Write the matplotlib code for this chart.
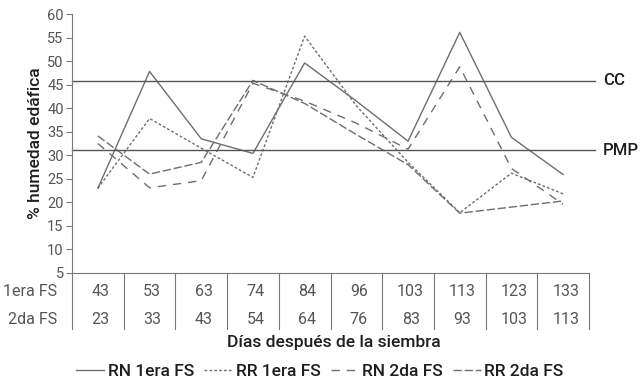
import matplotlib.pyplot as plt
from matplotlib.transforms import blended_transform_factory

plt.rcParams['font.family'] = ['Roboto', 'DejaVu Sans']

# Datos
dias_1era = [43, 53, 63, 74, 84, 96, 103, 113, 123, 133]
dias_2da = [23, 33, 43, 54, 64, 76, 83, 93, 103, 113]

rn_1era = [23.0, 47.8, 33.5, 30.4, 49.6, 41.5, 33.0, 56.1, 33.8, 25.9]
rr_1era = [23.0, 37.8, 31.5, 25.3, 55.3, 40.5, 28.5, 17.8, 26.2, 21.8]
rn_2da = [32.5, 23.1, 24.6, 45.3, 41.5, 36.8, 31.3, 48.8, 27.2, 19.6]
rr_2da = [34.1, 26.0, 28.5, 45.9, 41.0, 34.4, 28.0, 17.7, 19.0, 20.3]

cc = 45.8
pmp = 31.1

gris = '#6e6e6e'
texto = '#555555'
oscuro = '#1e1e1e'

fig = plt.figure(figsize=(6.43, 3.82), dpi=100)
ax = fig.add_axes([72 / 643, (382 - 273) / 382, (589 - 72) / 643, 259 / 382])

x = list(range(len(dias_1era)))

ax.plot(x, rn_1era, color=gris, lw=1.0, label='RN 1era FS')
ax.plot(x, rr_1era, color=gris, lw=1.0, dashes=(2, 1.5), label='RR 1era FS')
ax.plot(x, rn_2da, color=gris, lw=1.0, dashes=(6, 5), label='RN 2da FS')
ax.plot(x, rr_2da, color=gris, lw=1.0, dashes=(6, 2), label='RR 2da FS')

# Líneas CC y PMP
x_fin = 9.5 + 6 / 51.7
ax.plot([-0.5, x_fin], [cc, cc], color='#555555', lw=1.0, clip_on=False)
ax.plot([-0.5, x_fin], [pmp, pmp], color='#555555', lw=1.0, clip_on=False)
ax.text(9.5 + 14 / 51.7, cc, 'CC', fontsize=12, fontweight='medium', color=oscuro,
        va='center', ha='left')
ax.text(9.5 + 14 / 51.7, pmp, 'PMP', fontsize=12, fontweight='medium', color=oscuro,
        va='center', ha='left')

ax.set_xlim(-0.5, 9.5)
ax.set_ylim(5, 60)
ax.set_yticks(range(5, 61, 5))
ax.set_xticks([])
ax.tick_params(axis='y', length=4, width=0.8, colors='#777777', labelcolor=texto,
               labelsize=10.5, pad=2)
ax.spines['top'].set_visible(False)
ax.spines['right'].set_visible(False)
ax.spines['left'].set_color('#777777')
ax.spines['bottom'].set_color('#777777')
ax.spines['left'].set_linewidth(0.8)
ax.spines['bottom'].set_linewidth(0.8)

ax.set_ylabel('% humedad edáfica', fontsize=12.5, fontweight='medium', color=oscuro,
              labelpad=3)

# Tabla bajo el eje
trans = blended_transform_factory(ax.transData, ax.transAxes)
for i in range(len(dias_1era) + 1):
    ax.plot([i - 0.5, i - 0.5], [0, -0.216], color='#777777', lw=0.8,
            transform=trans, clip_on=False)
for i in x:
    ax.text(i + 0.05, -0.072, str(dias_1era[i]), transform=trans, ha='center',
            va='center', fontsize=11.5, color=texto)
    ax.text(i + 0.05, -0.179, str(dias_2da[i]), transform=trans, ha='center',
            va='center', fontsize=11.5, color=texto)
ax.text(-0.79, -0.072, '1era FS', transform=trans, ha='right', va='center',
        fontsize=11.5, color=texto)
ax.text(-0.79, -0.179, '2da FS', transform=trans, ha='right', va='center',
        fontsize=11.5, color=texto)

fig.text(334 / 643, 1 - 343 / 382, 'Días después de la siembra', ha='center',
         va='center', fontsize=12.5, fontweight='medium', color=oscuro)

fig.legend(loc='center', bbox_to_anchor=(320 / 643, 1 - 371 / 382), ncol=4,
           frameon=False, prop={'size': 12.5, 'weight': 'medium'},
           handlelength=1.6, handletextpad=0.2, columnspacing=0.6,
           labelcolor=oscuro)

fig.savefig('out.png', dpi=100)
